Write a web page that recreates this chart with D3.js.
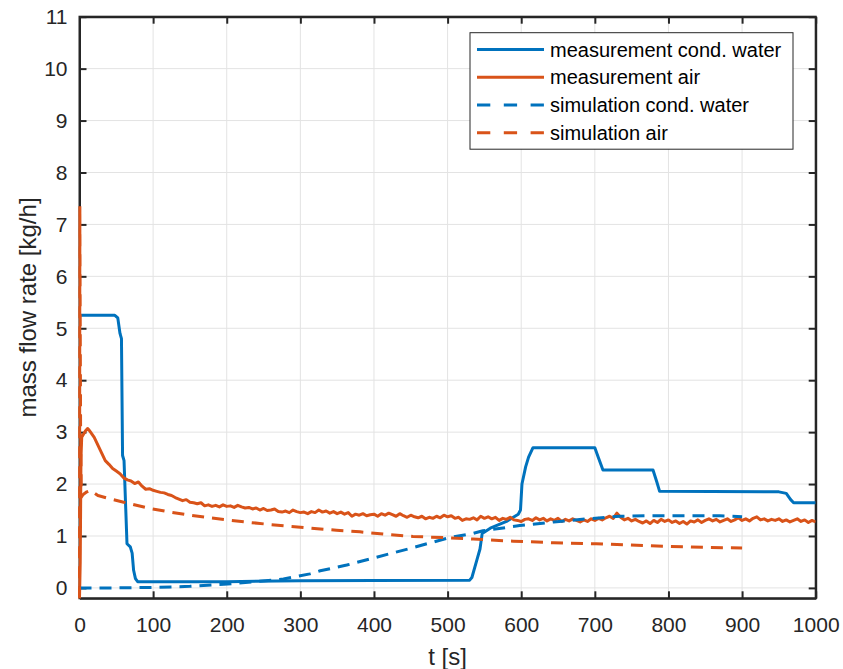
<!DOCTYPE html>
<html>
<head>
<meta charset="utf-8">
<script src="https://cdn.jsdelivr.net/npm/d3@7"></script>
<style>
  html, body { margin: 0; padding: 0; background: #fff; }
  svg { display: block; font-family: "Liberation Sans", Arial, Helvetica, sans-serif; }
</style>
</head>
<body>
<svg id="chart" width="843" height="669"></svg>
<script>
// ---------------- data ----------------
const xTicks = [0, 100, 200, 300, 400, 500, 600, 700, 800, 900, 1000];
const yTicks = [0, 1, 2, 3, 4, 5, 6, 7, 8, 9, 10, 11];
const seriesNames = ["measurement cond. water", "measurement air", "simulation cond. water", "simulation air"];

// measurement cond. water : [t, value]
const measWater = [
  [0, 5.25], [48, 5.25], [52, 5.2], [55, 4.9], [57, 4.8], [58.5, 2.55], [60.5, 2.45],
  [64.5, 0.85], [69, 0.79], [71.5, 0.67], [73.5, 0.34], [76, 0.18], [79, 0.12],
  [100, 0.12], [200, 0.12], [300, 0.14], [400, 0.145], [530, 0.15], [533, 0.2],
  [540, 0.55], [544, 0.75], [547, 1.05], [558, 1.15], [580, 1.28], [596, 1.42],
  [599, 1.5], [601, 2.0], [606, 2.33], [610, 2.52], [616, 2.7], [700, 2.7],
  [705, 2.5], [711, 2.27], [779, 2.27], [784, 2.05], [788, 1.86], [950, 1.85],
  [960, 1.82], [966, 1.7], [970, 1.64], [1000, 1.64]
];

// measurement air : start (irregular), then values every 5 s from t = 15 to 1000
const measAirStart = [[0, -0.2], [1, 0.5], [2, 2.5], [3, 2.9], [5, 2.95], [8, 3.02], [11, 3.07], [13, 3.04]];
const measAirT0 = 15, measAirStep = 5;
const measAirValues = [
  3.0, 2.9, 2.75, 2.6, 2.45, 2.38, 2.3, 2.25, 2.2, 2.12,
  2.08, 2.06, 2.01, 2.04, 1.96, 1.9, 1.91, 1.88, 1.86, 1.84,
  1.83, 1.8, 1.78, 1.74, 1.71, 1.68, 1.7, 1.65, 1.64, 1.62,
  1.64, 1.58, 1.6, 1.57, 1.59, 1.56, 1.6, 1.57, 1.58, 1.55,
  1.59, 1.56, 1.54, 1.55, 1.52, 1.54, 1.5, 1.53, 1.49, 1.5,
  1.52, 1.47, 1.46, 1.48, 1.45, 1.5, 1.47, 1.45, 1.46, 1.43,
  1.47, 1.45, 1.5, 1.46, 1.48, 1.44, 1.47, 1.43, 1.46, 1.42,
  1.45, 1.38, 1.42, 1.4, 1.43, 1.39, 1.41, 1.42, 1.38, 1.43,
  1.4, 1.44, 1.41, 1.38, 1.43, 1.39, 1.36, 1.4, 1.37, 1.35,
  1.38, 1.33, 1.36, 1.34, 1.38, 1.35, 1.4, 1.37, 1.39, 1.34,
  1.36, 1.3, 1.33, 1.32, 1.35, 1.31, 1.38, 1.34, 1.37, 1.33,
  1.36, 1.3, 1.34, 1.32, 1.36, 1.31, 1.3, 1.28, 1.32, 1.33,
  1.3, 1.35, 1.31, 1.34, 1.29, 1.33, 1.3, 1.34, 1.28, 1.32,
  1.29, 1.33, 1.3, 1.27, 1.31, 1.28, 1.33, 1.3, 1.34, 1.31,
  1.35, 1.38, 1.34, 1.44, 1.36, 1.31, 1.34, 1.29, 1.32, 1.28,
  1.25, 1.29, 1.24, 1.3, 1.26, 1.32, 1.28, 1.31, 1.26, 1.29,
  1.24, 1.28, 1.23, 1.29, 1.27, 1.31, 1.26, 1.3, 1.33, 1.29,
  1.32, 1.27, 1.3, 1.33, 1.28, 1.31, 1.35, 1.3, 1.33, 1.29,
  1.34, 1.37, 1.31, 1.33, 1.29, 1.32, 1.3, 1.33, 1.28, 1.31,
  1.27, 1.3, 1.33, 1.28, 1.31, 1.26, 1.3, 1.27
];

// simulation cond. water : [t, value]
const simWater = [
  [0, 0], [50, 0], [100, 0.01], [150, 0.03], [196, 0.07], [238, 0.12], [277, 0.17],
  [313, 0.27], [327, 0.33], [363, 0.44], [395, 0.56], [422, 0.66], [449, 0.76],
  [472, 0.85], [503, 0.97], [535, 1.05], [548, 1.1], [598, 1.2], [644, 1.27],
  [689, 1.33], [734, 1.38], [770, 1.39], [830, 1.39], [870, 1.39], [900, 1.37]
];

// simulation air : [t, value]
const simAir = [
  [0, -0.2], [0.5, 7.35], [1.5, 3.0], [2.5, 1.75], [5, 1.8], [10, 1.85], [15, 1.88],
  [18, 1.85], [25, 1.78], [40, 1.72], [60, 1.65], [96, 1.53], [123, 1.46], [150, 1.4],
  [177, 1.35], [205, 1.3], [232, 1.26], [259, 1.22], [282, 1.19], [300, 1.17],
  [323, 1.14], [349, 1.11], [381, 1.08], [417, 1.03], [453, 0.99], [494, 0.97],
  [535, 0.94], [589, 0.9], [644, 0.87], [702, 0.85], [757, 0.82], [800, 0.8],
  [850, 0.78], [900, 0.77]
];

// ---------------- layout ----------------
const svg = d3.select("#chart");
const L = 79.5, R = 815.7, T = 16.7, B = 598.3;
const textCol = "#262626";
const blue = "#0072BD", orange = "#D95319";

const x = d3.scaleLinear().domain([0, 1000]).range([L, R]);
const y = d3.scaleLinear().domain([-0.2, 11]).range([B, T]);

const measAir = measAirStart.concat(
  measAirValues.map((v, i) => [measAirT0 + i * measAirStep, v])
);

// clip (slightly wider so lines sitting on the axis stay visible)
svg.append("defs").append("clipPath").attr("id", "clip")
  .append("rect").attr("x", L - 3).attr("y", T).attr("width", R - L + 3).attr("height", B - T + 1);

// grid
const grid = svg.append("g");
grid.selectAll(".gx").data(xTicks).join("line")
  .attr("x1", d => x(d)).attr("x2", d => x(d)).attr("y1", T).attr("y2", B)
  .attr("stroke", "#e3e3e3").attr("stroke-width", 1);
grid.selectAll(".gy").data(yTicks).join("line")
  .attr("y1", d => y(d)).attr("y2", d => y(d)).attr("x1", L).attr("x2", R)
  .attr("stroke", "#e3e3e3").attr("stroke-width", 1);

// axes (ticks inward, on all four sides)
const tickLen = 7;
const fmt = d3.format("d");
const axB = svg.append("g").attr("transform", `translate(0,${B})`)
  .call(d3.axisBottom(x).tickValues(xTicks).tickFormat(fmt).tickSizeInner(-tickLen).tickSizeOuter(0).tickPadding(19));
const axT = svg.append("g").attr("transform", `translate(0,${T})`)
  .call(d3.axisTop(x).tickValues(xTicks).tickSizeInner(-tickLen).tickSizeOuter(0).tickFormat(""));
const axL = svg.append("g").attr("transform", `translate(${L},0)`)
  .call(d3.axisLeft(y).tickValues(yTicks).tickFormat(fmt).tickSizeInner(-tickLen).tickSizeOuter(0).tickPadding(12));
const axR = svg.append("g").attr("transform", `translate(${R},0)`)
  .call(d3.axisRight(y).tickValues(yTicks).tickSizeInner(-tickLen).tickSizeOuter(0).tickFormat(""));
[axB, axT, axL, axR].forEach(a => {
  a.select(".domain").attr("stroke", textCol).attr("stroke-width", 2);
  a.selectAll(".tick line").attr("stroke", textCol).attr("stroke-width", 2);
  a.selectAll("text").attr("fill", textCol).style("font-size", "21px")
    .style("font-family", "'Liberation Sans', Arial, sans-serif");
});
axB.selectAll("text").attr("dy", "0.71em");

// frame
svg.append("rect").attr("x", L).attr("y", T).attr("width", R - L).attr("height", B - T)
  .attr("fill", "none").attr("stroke", textCol).attr("stroke-width", 2);

// lines (drawn over the frame, as in the reference)
const line = d3.line().x(d => x(d[0])).y(d => y(d[1]));
const plot = svg.append("g").attr("clip-path", "url(#clip)");
const series = [
  { data: measWater, color: blue, dash: null },
  { data: measAir, color: orange, dash: null },
  { data: simWater, color: blue, dash: "12,8" },
  { data: simAir, color: orange, dash: "12,8" }
];
plot.selectAll("path").data(series).join("path")
  .attr("d", d => line(d.data))
  .attr("fill", "none")
  .attr("stroke", d => d.color)
  .attr("stroke-width", 3)
  .attr("stroke-linejoin", "round")
  .attr("stroke-dasharray", d => d.dash);

// axis labels
svg.append("text").attr("x", (L + R) / 2).attr("y", 665)
  .attr("text-anchor", "middle").attr("fill", textCol).style("font-size", "24px")
  .text("t [s]");
svg.append("text").attr("transform", `translate(36,${(T + B) / 2}) rotate(-90)`)
  .attr("text-anchor", "middle").attr("fill", textCol).style("font-size", "24px")
  .text("mass flow rate [kg/h]");

// legend
const lg = svg.append("g");
lg.append("rect").attr("x", 470).attr("y", 32.7).attr("width", 323).attr("height", 116.5)
  .attr("fill", "#fff").attr("stroke", textCol).attr("stroke-width", 1);
const legY = [49.5, 77.3, 105, 132.7];
const items = lg.selectAll(".item").data(series).join("g")
  .attr("transform", (d, i) => `translate(0,${legY[i]})`);
items.append("line").attr("x1", 477).attr("x2", 544).attr("y1", 0).attr("y2", 0)
  .attr("stroke", d => d.color).attr("stroke-width", 3)
  .attr("stroke-dasharray", d => d.dash ? "13.3,13.5" : null);
items.append("text").attr("x", 550).attr("y", 0).attr("dy", "0.35em")
  .attr("fill", "#000").style("font-size", "20px")
  .text((d, i) => seriesNames[i]);
</script>
</body>
</html>
